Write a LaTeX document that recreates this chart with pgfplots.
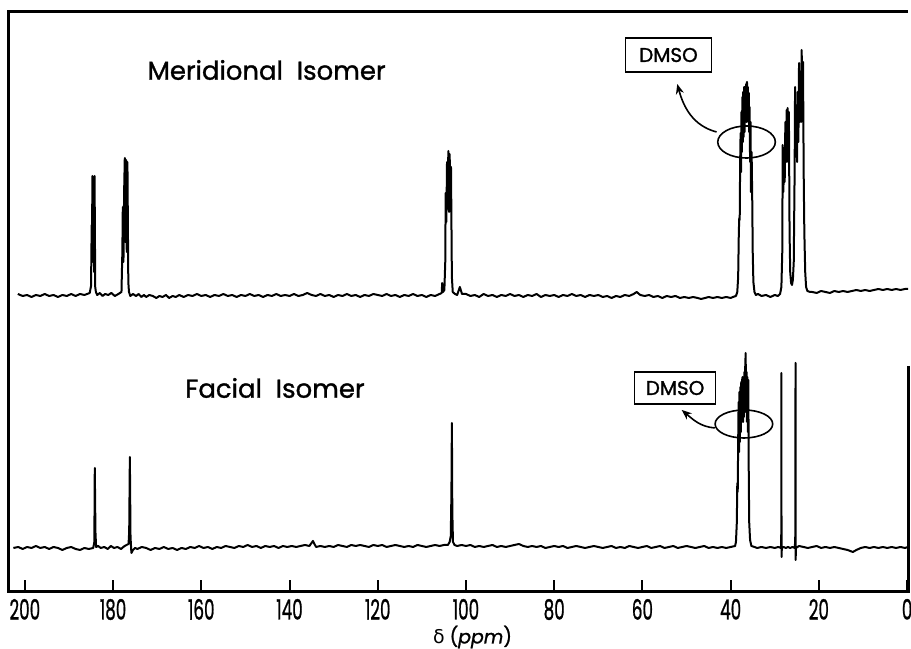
\documentclass[border=0pt]{standalone}
\usepackage{pgfplots}
\pgfplotsset{compat=1.18}
\usepackage{fontspec}
\setmainfont{Poppins}
\newfontfamily\heavy{Poppins}[FakeBold=1.2]
\newfontfamily\dvfont{DejaVu Sans}
\usetikzlibrary{arrows.meta}

% 13C spectra, y in picture units (0 = bottom frame, 580 = top frame)
\pgfplotstableread{
ppm y
201.6 298
200.5 296
199.5 297
198.5 295
197.5 297
196.5 296
195.5 298
194.5 296
193.5 297
192.5 295
191.5 297
190.5 296
189.5 298
188.5 296
187.5 298
186.5 297
185.3 299
185.0 306
184.85 367
184.75 360
184.7 416
184.55 330
184.45 415
184.3 320
184.2 416
184.05 305
183.9 300
183.6 297
183.0 299
182.4 296
181.8 298
181.1 297
180.4 299
179.6 296
178.8 298
178.1 300
177.9 340
177.8 385
177.65 330
177.5 400
177.35 434
177.2 350
177.05 432
176.9 340
176.75 430
176.55 310
176.4 300
176.1 296
175.5 298
174.8 296
174.2 298
173.6 295
173.0 297
172.5 295
171.8 297
171.0 296
170.2 294
169.5 296
168.8 295
168.0 297
167.3 294
166.5 296
165.8 295
165.0 297
164.0 295
163.0 297
162.0 296
161.0 298
160.0 296
159.0 297
158.0 295
157.0 297
156.0 296
155.0 298
154.0 296
153.0 297
152.0 295
151.0 297
150.0 296
149.0 298
148.0 296
147.0 297
146.0 295
145.0 297
144.0 296
143.0 298
142.0 296
141.0 297
140.0 296
139.0 298
138.0 296
137.0 297
136.0 299
135.0 297
134.0 296
133.0 298
132.0 296
131.0 297
130.0 295
129.0 297
128.0 296
127.0 298
126.0 296
125.0 297
124.0 295
123.0 297
122.0 296
121.0 298
120.0 297
119.0 296
118.0 298
117.0 296
116.0 297
115.0 295
114.0 297
113.0 296
112.0 298
111.0 296
110.0 297
109.0 295
108.0 297
107.0 296
105.5 299
105.4 309
105.2 300
104.9 302
104.7 330
104.6 399
104.45 370
104.3 430
104.15 400
104.0 441
103.85 380
103.7 438
103.55 390
103.4 425
103.2 315
103.0 300
102.5 298
102.0 297
101.4 305
100.9 298
100.0 298
99 296
98 297
97 295
96 298
95 296
94 297
93 295
92 297
91 296
90 298
89 296
88 297
87 295
86 297
85 296
84 298
83 295
82 297
81 296
80 297
79 295
78 297
77 296
76 298
75 296
74 297
73 295
72 297
71 296
70 297
69 295
68 296
67 294
66 296
65 295
64 297
63 296
62 298
61.3 300
60.5 297
59.5 296
58.5 297
57.5 295
56.5 296
55.5 294
54.5 296
53.5 295
52.5 296
51.5 294
50.5 295
49.5 294
48.5 295
47.5 294
46.7 293
45.8 294
45 295
44 294
43 295
42 294
41 295
40 294
39.5 295
38.8 296
38.5 300
38.3 315
38.15 360
38.05 374
37.95 372
37.85 430
37.75 459
37.65 420
37.55 480
37.45 440
37.35 495
37.25 450
37.15 500
37.05 455
36.95 505
36.85 460
36.75 505
36.65 470
36.5 508
36.4 470
36.3 510
36.2 480
36.1 505
36.0 470
35.9 499
35.8 460
35.7 485
35.6 430
35.5 470
35.4 400
35.25 440
35.1 389
35.0 340
34.85 310
34.6 300
34.3 297
33.8 298
33.0 296
32.0 297
31.0 295
30.0 297
29.3 296
28.8 298
28.5 305
28.3 340
28.2 447
28.05 400
27.9 440
27.75 410
27.6 470
27.45 430
27.3 482
27.2 440
27.1 484
26.95 430
26.8 480
26.65 360
26.5 320
26.3 309
26.1 307
25.9 312
25.7 330
25.5 420
25.4 505
25.25 440
25.1 480
24.95 430
24.8 500
24.65 450
24.5 529
24.35 470
24.2 520
24.05 470
23.9 542
23.75 480
23.6 530
23.45 420
23.3 360
23.1 320
22.9 305
22.6 301
22.0 300
21.5 300
20.5 299
19.5 301
18.5 300
17.5 299
16.5 301
15.5 300
14.5 301
13.5 300
12.5 301
11.5 302
10.5 301
9.5 302
8.5 301
7.5 302
6.5 303
5.5 302
4.5 303
3.5 302
2.5 303
1.5 302
0.5 303
-0.2 303
}\meridional

\pgfplotstableread{
ppm y
202.6 44
201.5 45
200.5 43
199.5 45
198.5 44
197.5 46
196.5 44
195.5 45
194.5 43
193.5 45
192.5 44
191.5 42
190.5 44
189.5 45
188.5 43
187.5 42
186.5 44
185.5 43
184.5 44
184.25 50
184.15 124
184.0 60
183.85 45
183.4 46
182.8 44
182.0 45
181.2 43
180.5 46
179.8 44
179.0 45
178.2 43
177.4 46
176.5 48
176.35 60
176.2 135
176.05 55
175.85 39
175.5 42
175.0 44
174.5 43
173.5 45
172.5 44
171.5 42
170.5 44
169.5 43
168.5 45
167.5 43
166.5 44
165.5 42
164.5 44
163.5 43
162.5 45
161.5 44
160.5 46
159.5 44
158.5 45
157.5 43
156.5 45
155.5 44
154.5 46
153.5 45
152.5 44
151.5 46
150.5 45
149.5 47
148.5 45
147.5 46
146.5 44
145.5 46
144.5 45
143.5 46
142.5 44
141.5 46
140.5 45
139.5 46
138.5 45
137.5 46
136.5 47
135.5 46
134.7 51
134.0 45
133 46
132 45
131 46
130 45
129 47
128 46
127 45
126 47
125 46
124 47
123 46
122 45
121 47
120 46
119 47
118 45
117 46
116 47
115 46
114 45
113 46
112 45
111 47
110 46
109 45
108 46
107 47
106 46
105 47
104.1 47
103.7 50
103.45 56
103.3 100
103.2 169
103.1 80
102.95 50
102.6 47
102 46
101 47
100 46
99 47
98 45
97 46
96 45
95 46
94 47
93 45
92 46
91 45
90 46
89 47
88 48
87 46
86 45
85 46
84 45
83 46
82 44
81 45
80 46
79 45
78 46
77 44
76 45
75 46
74 45
73 44
72 45
71 46
70 45
69 44
68 45
67 46
66 44
65 45
64 44
63 46
62 45
61 44
60 45
59 46
58 44
57 45
56 46
55 44
54 45
53 46
52 44
51 45
50 46
49 45
48 44
47 45
46 46
45 44
44 45
43 44
42 45
41 44
40 45
39.0 46
38.8 50
38.6 70
38.5 109
38.4 100
38.3 150
38.2 190
38.1 140
38.0 200
37.9 150
37.8 205
37.7 160
37.6 210
37.5 170
37.4 212
37.3 215
37.2 170
37.1 210
37.0 175
36.9 220
36.8 180
36.7 225
36.6 239
36.5 180
36.4 220
36.3 170
36.2 215
36.1 160
36.0 212
35.9 120
35.8 70
35.6 52
35.3 46
34.6 45
34 44
33 45
32 44
31 45
30 44
29.2 45
28.6 44
28.52 60
28.5 219
28.47 35
28.4 44
28.0 45
27.5 44
27 45
26.5 44
26.0 45
25.45 44
25.32 60
25.3 229
25.27 32
25.2 44
24.5 46
23.5 45
22.5 44
21.5 45
20.5 46
19.5 44
18.5 45
17.5 44
16.5 45
15.5 44
14.5 43
13.5 42
12.3 40
11.5 42
10.5 44
9.5 45
8.5 44
7.5 45
6.5 44
5.5 45
4.5 44
3.5 45
2.5 44
1.5 45
0.5 44
-0.2 45
}\facial

\begin{document}
\begin{tikzpicture}
\begin{axis}[
    scale only axis,
    width=449.5bp, height=290bp,
    x dir=reverse,
    xmin=-0.2, xmax=203.6,
    ymin=0, ymax=580,
    xtick={0,20,...,200},
    ytick=\empty,
    xtick pos=bottom,
    tick align=inside,
    major tick length=6bp,
    every tick/.style={black, line width=1bp},
    /pgf/number format/assume math mode=true,
    xticklabel style={font=\heavy\fontsize{14}{14}\selectfont, xscale=0.6},
    axis line style={draw=none},
    xlabel={{\dvfont δ} (\textit{ppm})},
    xlabel style={font=\heavy\fontsize{9.5}{9.5}\selectfont, yshift=4bp, xshift=7bp},
    clip=false,
]
\addplot[black, line width=1bp, line join=round] table[x=ppm, y=y] {\meridional};
\addplot[black, line width=1bp, line join=round] table[x=ppm, y=y] {\facial};

% frame
\draw[line width=1.5bp] (rel axis cs:1,0.39) -- (rel axis cs:1,0) -- (rel axis cs:0,0)
    -- (rel axis cs:0,1) -- (rel axis cs:1,1);
\coordinate (bl) at (rel axis cs:0,0);
\coordinate (tr) at (rel axis cs:1,1);

% panel titles
\node[font=\heavy\fontsize{13}{13}\selectfont] at (axis cs:145.2,522) {Meridional\ \ Isomer};
\node[font=\heavy\fontsize{13}{13}\selectfont] at (axis cs:143.3,204) {Facial\ \ Isomer};

% DMSO labels
\node[draw, line width=0.8bp, minimum width=43bp, minimum height=17bp, inner sep=0pt,
      font=\heavy\fontsize{10}{10}\selectfont] at (axis cs:54.1,537) {DMSO};
\draw[line width=0.8bp] (axis cs:36.4,450) ellipse [x radius=14.4bp, y radius=8bp];
\draw[line width=0.8bp, -{Stealth[length=5bp, width=4bp]}]
    (axis cs:43.2,460) to[out=165, in=-75] (axis cs:52.1,508);

\node[draw, line width=0.8bp, minimum width=40.5bp, minimum height=16bp, inner sep=0pt,
      font=\heavy\fontsize{10}{10}\selectfont] at (axis cs:52.6,204) {DMSO};
\draw[line width=0.8bp] (axis cs:37.0,168) ellipse [x radius=14.4bp, y radius=7bp];
\draw[line width=0.8bp, -{Stealth[length=5bp, width=4bp]}]
    (axis cs:43.6,164) to[out=175, in=-40] (axis cs:51.1,182);
\end{axis}
\pgfresetboundingbox
\path[use as bounding box] ([shift={(-4.5bp,-28.5bp)}]bl) rectangle ([shift={(1.5bp,6bp)}]tr);
\end{tikzpicture}
\end{document}
